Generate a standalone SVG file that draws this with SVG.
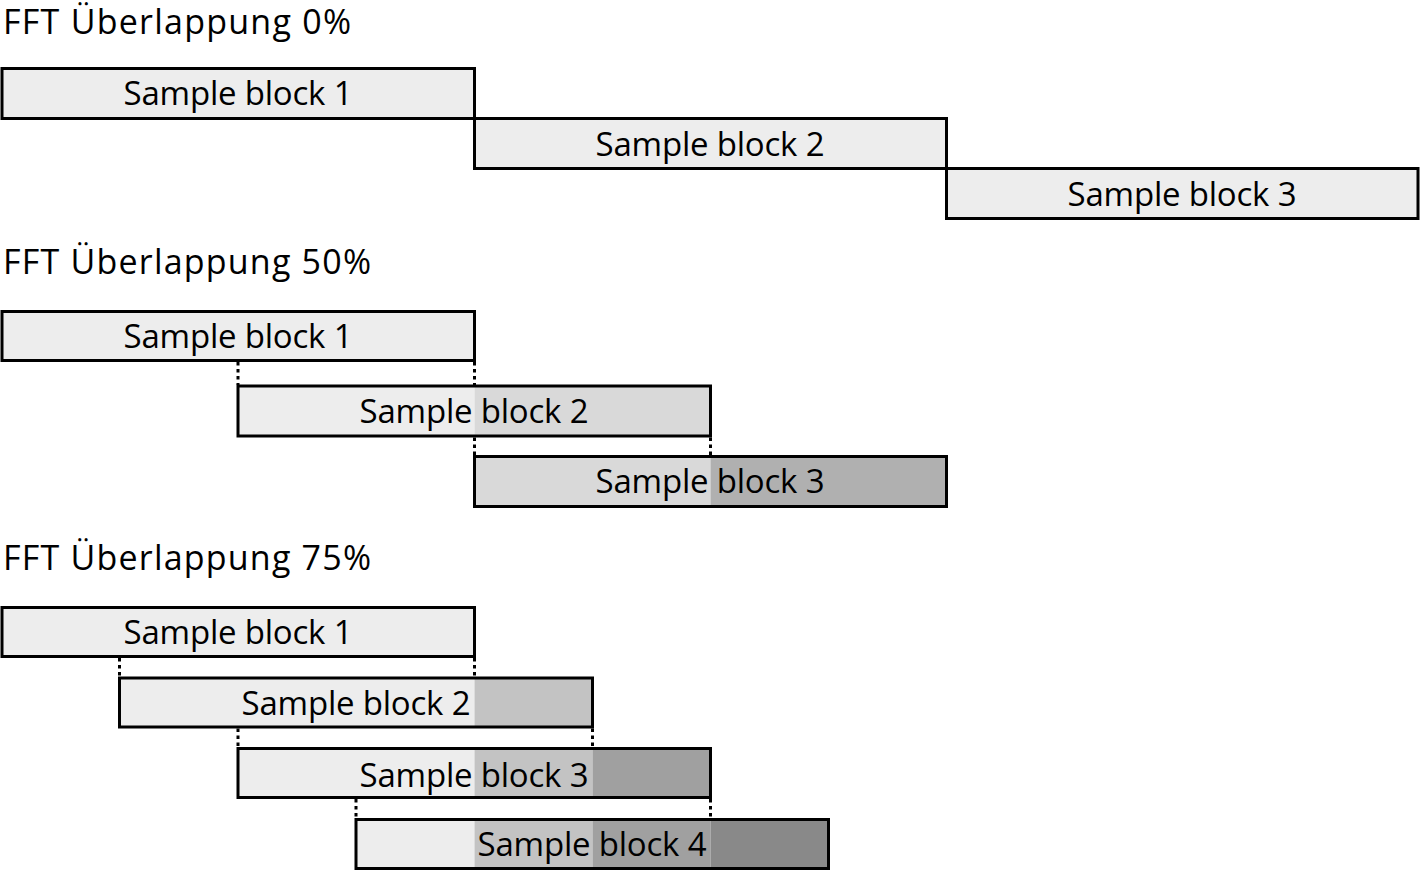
<svg xmlns="http://www.w3.org/2000/svg" width="1421" height="872" viewBox="0 0 1421 872">
<style>
  .t { font-family: "Open Sans", "Noto Sans", sans-serif; font-size: 33px; fill: #000; }
  .h { font-size: 34px; }
  .c { text-anchor: middle; }
  .box { fill: none; stroke: #000; stroke-width: 3; }
  .dot { stroke: #000; stroke-width: 3; stroke-dasharray: 3.5 3.5; fill: none; }
  .g0 { fill: #ededed; }
  .g1 { fill: #d9d9d9; }
  .g2 { fill: #b0b0b0; }
  .h1 { fill: #c3c3c3; }
  .h2 { fill: #a0a0a0; }
  .h3 { fill: #898989; }
</style>
<rect width="1421" height="872" fill="#fff"/>

<g id="section-0">
  <text class="t h" x="3" y="33.5" textLength="348">FFT Überlappung 0%</text>
  <g id="s0-block1">
    <rect class="g0" x="2" y="68.5" width="472.5" height="50"/>
    <rect class="box" x="2" y="68.5" width="472.5" height="50"/>
    <text class="t c" x="238" y="105" textLength="229">Sample block 1</text>
  </g>
  <g id="s0-block2">
    <rect class="g0" x="474.5" y="118.5" width="472" height="50"/>
    <rect class="box" x="474.5" y="118.5" width="472" height="50"/>
    <text class="t c" x="710" y="155.5" textLength="229">Sample block 2</text>
  </g>
  <g id="s0-block3">
    <rect class="g0" x="946.5" y="168.5" width="471.5" height="50"/>
    <rect class="box" x="946.5" y="168.5" width="471.5" height="50"/>
    <text class="t c" x="1182" y="205.5" textLength="229">Sample block 3</text>
  </g>
</g>

<g id="section-50">
  <text class="t h" x="3" y="274" textLength="368">FFT Überlappung 50%</text>
  <g id="s50-block1">
    <rect class="g0" x="2" y="311.5" width="472.5" height="49"/>
    <rect class="box" x="2" y="311.5" width="472.5" height="49"/>
    <text class="t c" x="238" y="347.5" textLength="229">Sample block 1</text>
  </g>
  <g id="s50-block2">
    <rect class="g0" x="238" y="386" width="236.5" height="50"/>
    <rect class="g1" x="474.5" y="386" width="236" height="50"/>
    <rect class="box" x="238" y="386" width="472.5" height="50"/>
    <text class="t c" x="474" y="423" textLength="229">Sample block 2</text>
  </g>
  <g id="s50-block3">
    <rect class="g1" x="474.5" y="456.5" width="236" height="50"/>
    <rect class="g2" x="710.5" y="456.5" width="236" height="50"/>
    <rect class="box" x="474.5" y="456.5" width="472" height="50"/>
    <text class="t c" x="710" y="493" textLength="229">Sample block 3</text>
  </g>
</g>

<g id="section-75">
  <text class="t h" x="3" y="570" textLength="368">FFT Überlappung 75%</text>
  <g id="s75-block1">
    <rect class="g0" x="2" y="607.5" width="472.5" height="49"/>
    <rect class="box" x="2" y="607.5" width="472.5" height="49"/>
    <text class="t c" x="238" y="644" textLength="229">Sample block 1</text>
  </g>
  <g id="s75-block2">
    <rect class="g0" x="119.5" y="678" width="355" height="49"/>
    <rect class="h1" x="474.5" y="678" width="118" height="49"/>
    <rect class="box" x="119.5" y="678" width="473" height="49"/>
    <text class="t c" x="356" y="715" textLength="229">Sample block 2</text>
  </g>
  <g id="s75-block3">
    <rect class="g0" x="238" y="748.5" width="236.5" height="49"/>
    <rect class="h1" x="474.5" y="748.5" width="118" height="49"/>
    <rect class="h2" x="592.5" y="748.5" width="118" height="49"/>
    <rect class="box" x="238" y="748.5" width="472.5" height="49"/>
    <text class="t c" x="474" y="787" textLength="229">Sample block 3</text>
  </g>
  <g id="s75-block4">
    <rect class="g0" x="356" y="819.5" width="118.5" height="49"/>
    <rect class="h1" x="474.5" y="819.5" width="118" height="49"/>
    <rect class="h2" x="592.5" y="819.5" width="118" height="49"/>
    <rect class="h3" x="710.5" y="819.5" width="118" height="49"/>
    <rect class="box" x="356" y="819.5" width="472.5" height="49"/>
    <text class="t c" x="592" y="856" textLength="229">Sample block 4</text>
  </g>
</g>

<g id="connectors">
  <line class="dot" x1="238" y1="362" x2="238" y2="385"/>
  <line class="dot" x1="474.5" y1="362" x2="474.5" y2="385"/>
  <line class="dot" x1="474.5" y1="437.5" x2="474.5" y2="455"/>
  <line class="dot" x1="710.5" y1="437.5" x2="710.5" y2="455"/>
  <line class="dot" x1="119.5" y1="658" x2="119.5" y2="677"/>
  <line class="dot" x1="474.5" y1="658" x2="474.5" y2="677"/>
  <line class="dot" x1="238" y1="728.5" x2="238" y2="747"/>
  <line class="dot" x1="592.5" y1="728.5" x2="592.5" y2="747"/>
  <line class="dot" x1="356" y1="799" x2="356" y2="818"/>
  <line class="dot" x1="710.5" y1="799" x2="710.5" y2="818"/>
</g>
</svg>
